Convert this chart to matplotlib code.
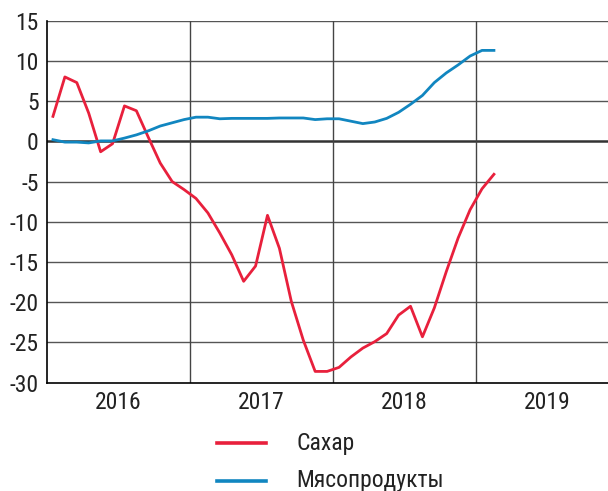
import numpy as np
import matplotlib
matplotlib.use("Agg")
import matplotlib.pyplot as plt
from matplotlib.lines import Line2D

# monthly values, Jan 2016 .. Feb 2019
sugar = [3.1, 8.0, 7.3, 3.5, -1.3, -0.3, 4.4, 3.8, 0.5, -2.7, -5.0, -6.0,
         -7.1, -8.9, -11.4, -14.1, -17.4, -15.5, -9.2, -13.3, -19.9, -24.7, -28.6, -28.6,
         -28.1, -26.8, -25.7, -24.9, -23.9, -21.6, -20.5, -24.3, -20.7, -16.2, -12.0, -8.5,
         -5.9, -4.1]
meat = [0.2, -0.1, -0.1, -0.2, 0.05, 0.05, 0.4, 0.8, 1.3, 1.9, 2.3, 2.7,
        3.0, 3.0, 2.8, 2.85, 2.85, 2.85, 2.85, 2.9, 2.9, 2.9, 2.7, 2.8,
        2.8, 2.5, 2.2, 2.4, 2.85, 3.6, 4.6, 5.7, 7.3, 8.5, 9.5, 10.6,
        11.3, 11.3]
years = ["2016", "2017", "2018", "2019"]
labels = ["Сахар", "Мясопродукты"]

plt.rcParams['font.family'] = ["Roboto Condensed", "Liberation Sans Narrow", "Roboto", "DejaVu Sans"]
plt.rcParams['text.color'] = "#222222"
plt.rcParams['xtick.color'] = "#222222"
plt.rcParams['ytick.color'] = "#222222"

red = "#e8203c"
blue = "#1186c0"

fig = plt.figure(figsize=(6.08, 4.91), dpi=100)
ax = fig.add_axes([0.0773, 0.2206, 0.9227, 0.7374])

x = np.arange(len(sugar)) + 0.5
ax.plot(x, sugar, color=red, lw=2.0, zorder=3)
ax.plot(x, meat, color=blue, lw=2.0, zorder=3)

ax.set_xlim(0, 47.07)
ax.set_ylim(-30, 15)
ax.set_yticks(np.arange(-30, 16, 5))
ax.set_yticklabels([str(v) for v in range(-30, 16, 5)], fontsize=17)
for v in range(-25, 16, 5):
    ax.axhline(v, color="#333333" if v == 0 else "#555555",
               lw=1.8 if v == 0 else 1.0, zorder=1)
for i in range(1, 4):
    ax.axvline(12 * i, color="#444444", lw=1.0, zorder=1)

ax.set_xticks([6, 18, 30, 42])
ax.set_xticklabels(years, fontsize=17)
ax.tick_params(axis="both", length=0, pad=6)

for s in ["top", "right"]:
    ax.spines[s].set_visible(False)
ax.spines["left"].set_linewidth(1.2)
ax.spines["bottom"].set_linewidth(1.2)

# legend below the chart
for yy, c, lab in [(0.097, red, labels[0]), (0.021, blue, labels[1])]:
    fig.add_artist(Line2D([0.357, 0.438], [yy, yy], color=c, lw=2.6,
                          transform=fig.transFigure))
    fig.text(0.488, yy, lab, fontsize=17, va="center", ha="left")

fig.savefig("out.png", dpi=100)
